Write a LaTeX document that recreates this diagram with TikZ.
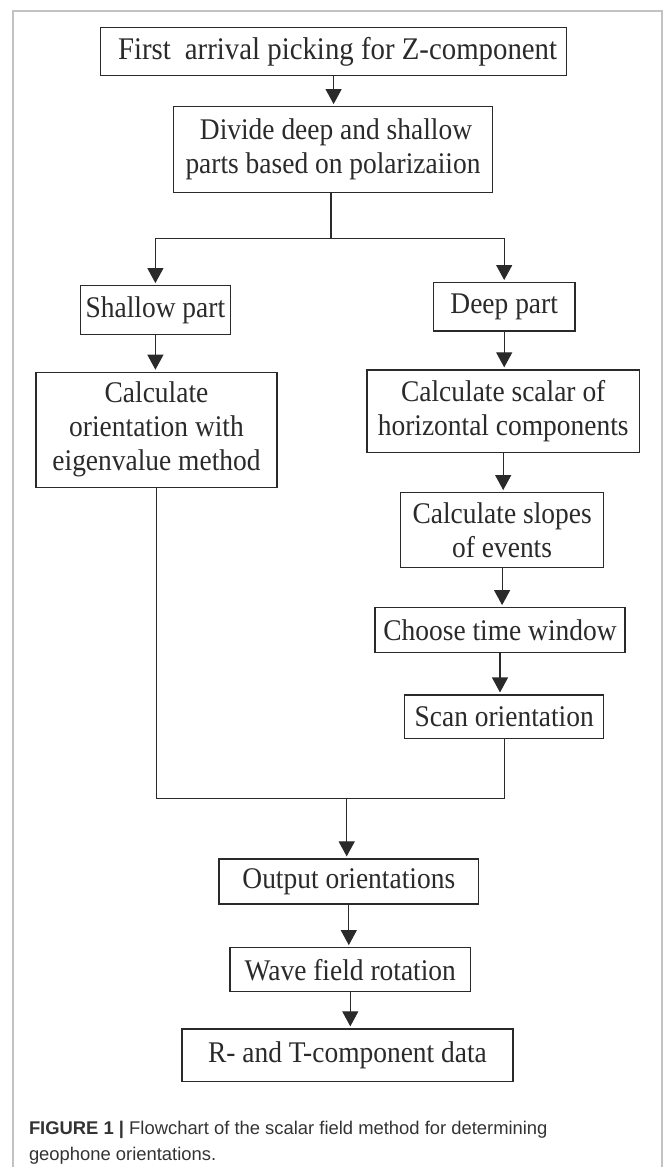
\documentclass[tikz,border=0pt]{standalone}
\usepackage{fontspec}
\setmainfont{Liberation Serif}[FakeStretch=0.915]
\newfontfamily\capfont{Liberation Sans}
\usepackage{tikz}
\usetikzlibrary{arrows.meta}

\definecolor{ink}{HTML}{2A2A2A}
\definecolor{framegray}{HTML}{C2C2C2}
\definecolor{captext}{HTML}{333333}

\tikzset{
  stage/.style={draw=ink, line width=1.2pt, text=ink, align=center, inner sep=0pt,
    font=\fontsize{30}{34}\selectfont},
  flow/.style={draw=ink, line width=1.1pt},
  flowarrow/.style={flow, -{Triangle[width=16pt,length=15pt]}, shorten >=2pt},
}

\begin{document}
\begin{tikzpicture}[x=1pt,y=-1pt]
    \useasboundingbox (0,0) rectangle (663,1167);
    \draw[framegray, line width=2pt] (12.7,1190) -- (12.7,10.7) -- (661.7,10.7) -- (661.7,1190);

    % main trunk
    \node[stage, minimum width=466pt, minimum height=48pt, font=\fontsize{31.5}{34}\selectfont] (first) at (333.6,51.8)
      {\hspace{8pt}First\hspace{14pt}arrival picking for Z-component};
    \node[stage, minimum width=319pt, minimum height=86pt] (divide) at (333,149.7)
      {\hspace{6pt}Divide deep and shallow\\parts based on polarizaiion};

    % left branch
    \node[stage, minimum width=150pt, minimum height=48.6pt] (shallow) at (155.4,310)
      {Shallow part};
    \node[stage, minimum width=241pt, minimum height=115pt] (eigen) at (156.5,429.8)
      {Calculate\\orientation with\\eigenvalue method};

    % right branch
    \node[stage, minimum width=141.6pt, minimum height=48.3pt] (deep) at (504.2,306.8)
      {Deep part};
    \node[stage, minimum width=272.3pt, minimum height=82.7pt] (scalar) at (503.2,411.3)
      {Calculate scalar of\\horizontal components};
    \node[stage, minimum width=202.6pt, minimum height=75pt] (slopes) at (502.1,530.2)
      {Calculate slopes\\of events};
    \node[stage, minimum width=250pt, minimum height=45pt] (window) at (500,630.2)
      {Choose time window};
    \node[stage, minimum width=199pt, minimum height=43.3pt] (scan) at (504.2,716.7)
      {Scan orientation};

    % after merging
    \node[stage, minimum width=259.6pt, minimum height=45pt] (output) at (348.8,881.5)
      {Output orientations};
    \node[stage, minimum width=240.6pt, minimum height=44pt] (wave) at (350.3,969.7)
      {Wave field rotation};
    \node[stage, minimum width=331pt, minimum height=52.7pt] (rt) at (347.5,1055.3)
      {R- and T-component data};

    \coordinate (split) at (331,238.7);
    \coordinate (merge) at (346.7,798.3);

    \draw[flowarrow] (first.south) -- (first.south |- divide.north);
    \draw[flow] (divide.south -| split) -- (split);
    \draw[flowarrow] (split) -| (shallow.north);
    \draw[flowarrow] (split) -| (deep.north);
    \draw[flowarrow] (shallow.south) -- (shallow.south |- eigen.north);
    \foreach \a/\b in {deep/scalar, scalar/slopes, slopes/window, window/scan}
      \draw[flowarrow] (\a.south) -- (\a.south |- \b.north);
    \draw[flow] (eigen.south) |- (merge);
    \draw[flow] (scan.south) |- (merge);
    \draw[flowarrow] (merge) -- (merge |- output.north);
    \draw[flowarrow] (output.south) -- (output.south |- wave.north);
    \draw[flowarrow] (wave.south) -- (wave.south |- rt.north);

    \node[anchor=base west, align=left, inner sep=0pt, text=captext,
      font=\capfont\fontsize{18.4}{25.8}\selectfont] (caption) at (28.8,1160)
      {\textbf{FIGURE 1 |} Flowchart of the scalar field method for determining\\geophone orientations.};
\end{tikzpicture}
\end{document}
